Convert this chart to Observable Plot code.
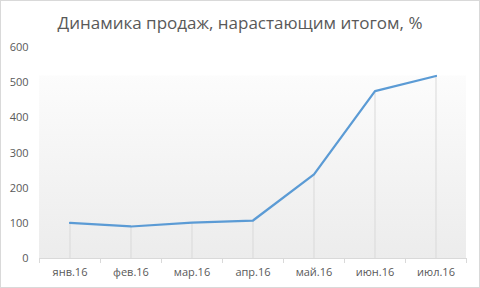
<!DOCTYPE html>
<html>
<head>
<meta charset="utf-8">
<script src="https://cdn.jsdelivr.net/npm/d3@7"></script>
<script src="https://cdn.jsdelivr.net/npm/@observablehq/plot@0.6"></script>
<style>
  html, body { margin: 0; padding: 0; background: #fff; }
  #frame { width: 480px; height: 288px; box-sizing: border-box; border: 1px solid #d9d9d9; background: #fff; overflow: hidden; }
  #title { height: 34px; line-height: 44px; text-align: center; font-family: "Open Sans", sans-serif; font-size: 17px; color: #595959; }
  #chart svg { display: block; overflow: visible; }
</style>
</head>
<body>
<div id="frame">
  <div id="title">Динамика продаж, нарастающим итогом, %</div>
  <div id="chart"></div>
</div>
<script>
const months = ["янв.16", "фев.16", "мар.16", "апр.16", "май.16", "июн.16", "июл.16"];
const sales = [101, 91, 102, 108, 239, 476, 519];
const yTicks = [0, 100, 200, 300, 400, 500, 600];

const data = months.map((m, i) => ({month: m, value: sales[i]}));
const maxValue = d3.max(sales);

const W = 478, H = 252;
const mL = 38, mR = 13, mT = 12, mB = 29;
const bw = (W - mL - mR) / months.length;

const chart = Plot.plot({
  width: W,
  height: H,
  marginLeft: mL,
  marginRight: mR,
  marginTop: mT,
  marginBottom: mB,
  style: {fontFamily: "Open Sans, sans-serif", fontSize: "11px", color: "#595959", background: "transparent"},
  x: {type: "band", domain: months, padding: 0, label: null},
  y: {domain: [0, 600], label: null},
  marks: [
    Plot.barY(data, {x: "month", y: () => maxValue, fill: "url(#bgGrad)", inset: 0}),
    Plot.ruleX(data, {x: "month", y1: 0, y2: "value", stroke: "#d9d9d9", strokeWidth: 1}),
    Plot.ruleY([0], {stroke: "#d9d9d9"}),
    Plot.axisX({tickSize: 5, tickFormat: () => "", dx: -bw / 2, stroke: "#d9d9d9"}),
    Plot.axisX({ticks: [months[months.length - 1]], tickSize: 5, tickFormat: () => "", dx: bw / 2, stroke: "#d9d9d9"}),
    Plot.axisX({tickSize: 0, tickPadding: 10, fill: "#595959"}),
    Plot.axisY({ticks: yTicks, tickSize: 0, tickPadding: 11, fill: "#595959"}),
    Plot.line(data, {x: "month", y: "value", stroke: "#5b9bd5", strokeWidth: 2.25, strokeLinejoin: "round"})
  ]
});

const svg = d3.select(chart);
const defs = svg.insert("defs", ":first-child");
const grad = defs.append("linearGradient").attr("id", "bgGrad").attr("x1", 0).attr("y1", 0).attr("x2", 0).attr("y2", 1);
grad.append("stop").attr("offset", "0%").attr("stop-color", "#fcfcfc");
grad.append("stop").attr("offset", "100%").attr("stop-color", "#ececec");

document.getElementById("chart").appendChild(chart);
</script>
</body>
</html>
